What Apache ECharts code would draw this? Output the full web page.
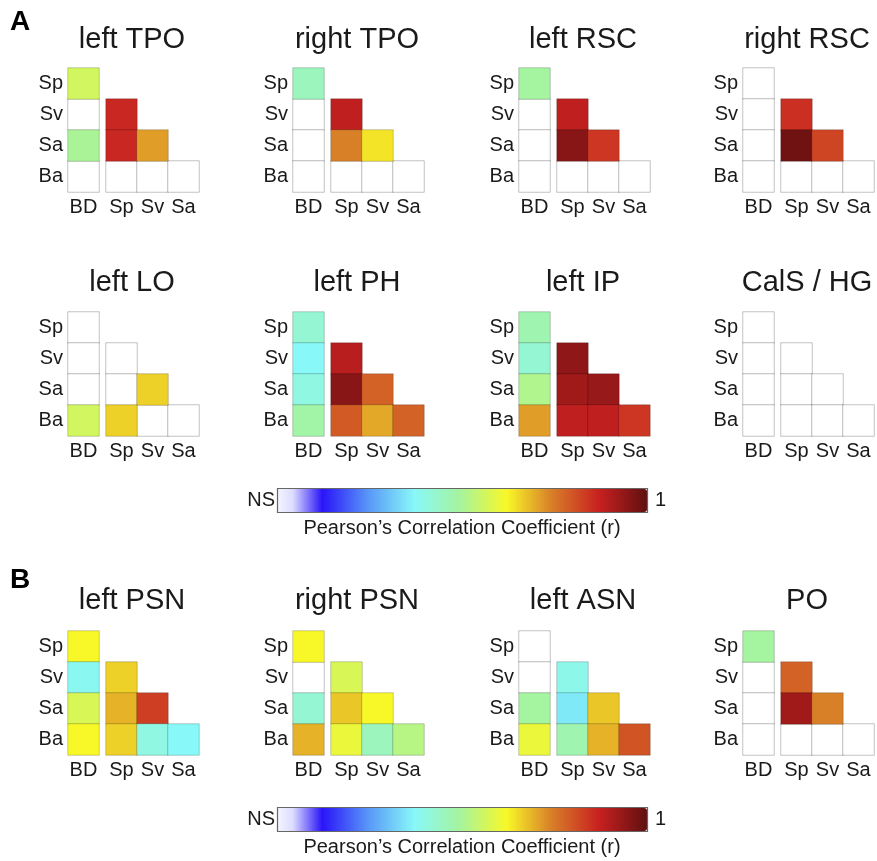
<!DOCTYPE html>
<html>
<head>
<meta charset="utf-8">
<script src="https://cdn.jsdelivr.net/npm/echarts@6/dist/echarts.min.js"></script>
<style>
html,body{margin:0;padding:0;background:#fff;}
#chart{width:877px;height:861px;}
</style>
</head>
<body>
<div id="chart"></div>
<script>
// ---- categories ----
const rowCats = ['Sp', 'Sv', 'Sa', 'Ba'];
const bdCats = ['BD'];
const triCats = ['Sp', 'Sv', 'Sa'];
// lower-triangle cell order: Sv-Sp, Sa-Sp, Sa-Sv, Ba-Sp, Ba-Sv, Ba-Sa  ([xIndex in triCats, yIndex in rowCats])
const triPairs = [[0, 1], [0, 2], [1, 2], [0, 3], [1, 3], [2, 3]];

const panelTitles = ['left TPO', 'right TPO', 'left RSC', 'right RSC',
  'left LO', 'left PH', 'left IP', 'CalS / HG',
  'left PSN', 'right PSN', 'left ASN', 'PO'];

// ---- values (position on the NS..1 colour scale; null = NS) ----
const leftTPO_BD = [0.56, null, 0.50, null];
const leftTPO_tri = [0.86, 0.86, 0.71, null, null, null];
const rightTPO_BD = [0.45, null, null, null];
const rightTPO_tri = [0.88, 0.74, 0.64, null, null, null];
const leftRSC_BD = [0.49, null, null, null];
const leftRSC_tri = [0.88, 0.95, 0.84, null, null, null];
const rightRSC_BD = [null, null, null, null];
const rightRSC_tri = [0.85, 0.98, 0.82, null, null, null];

const leftLO_BD = [null, null, null, 0.56];
const leftLO_tri = [null, null, 0.66, 0.66, null, null];
const leftPH_BD = [0.42, 0.37, 0.40, 0.48];
const leftPH_tri = [0.89, 0.95, 0.78, 0.79, 0.70, 0.78];
const leftIP_BD = [0.47, 0.42, 0.51, 0.71];
const leftIP_tri = [0.94, 0.92, 0.93, 0.88, 0.88, 0.84];
const calsHG_BD = [null, null, null, null];
const calsHG_tri = [null, null, null, null, null, null];

const leftPSN_BD = [0.62, 0.38, 0.57, 0.62];
const leftPSN_tri = [0.66, 0.69, 0.83, 0.66, 0.40, 0.37];
const rightPSN_BD = [0.62, null, 0.42, 0.69];
const rightPSN_tri = [0.57, 0.67, 0.62, 0.60, 0.45, 0.52];
const leftASN_BD = [null, null, 0.49, 0.60];
const leftASN_tri = [0.39, 0.35, 0.67, 0.47, 0.69, 0.80];
const PO_BD = [0.49, null, null, null];
const PO_tri = [0.78, 0.92, 0.74, null, null, null];

const bdValues = [leftTPO_BD, rightTPO_BD, leftRSC_BD, rightRSC_BD,
  leftLO_BD, leftPH_BD, leftIP_BD, calsHG_BD,
  leftPSN_BD, rightPSN_BD, leftASN_BD, PO_BD];
const triValues = [leftTPO_tri, rightTPO_tri, leftRSC_tri, rightRSC_tri,
  leftLO_tri, leftPH_tri, leftIP_tri, calsHG_tri,
  leftPSN_tri, rightPSN_tri, leftASN_tri, PO_tri];

// ---- colour scale (style) ----
const stops = [[0, '#f4f4ff'], [0.04, '#dcdcff'], [0.12, '#2a14f8'], [0.25, '#5a9cf8'],
  [0.37, '#88f8f8'], [0.49, '#a4f4a0'], [0.62, '#f8f828'], [0.74, '#d88028'],
  [0.87, '#c82020'], [1, '#601010']];
function hex2rgb(h) { return [parseInt(h.substr(1, 2), 16), parseInt(h.substr(3, 2), 16), parseInt(h.substr(5, 2), 16)]; }
function sample(t) {
  for (let i = 0; i < stops.length - 1; i++) {
    const a = stops[i], b = stops[i + 1];
    if (t >= a[0] && t <= b[0]) {
      const f = (t - a[0]) / (b[0] - a[0]);
      const ca = hex2rgb(a[1]), cb = hex2rgb(b[1]);
      return 'rgb(' + ca.map((v, k) => Math.round(v + (cb[k] - v) * f)).join(',') + ')';
    }
  }
  return stops[stops.length - 1][1];
}
const palette = [];
for (let i = 0; i <= 100; i++) palette.push(sample(i / 100));

// ---- layout ----
const FONT = '"Liberation Sans", Arial, Helvetica, sans-serif';
const TXT = '#1a1a1a';
const panelX = [68, 293, 519, 743];
const rowTop = [68, 312, 631];
const CELL = 31, GAP = 7;

const grids = [], xAxes = [], yAxes = [], series = [], graphics = [];
const colourSeriesA = [], colourSeriesB = [];
const cellStyle = { borderColor: 'rgba(0,0,0,0.2)', borderWidth: 1 };
const nsStyle = { color: '#ffffff', borderColor: 'rgba(0,0,0,0.24)', borderWidth: 1 };

for (let p = 0; p < 12; p++) {
  const r = Math.floor(p / 4), c = p % 4;
  const x0 = panelX[c], y0 = rowTop[r];
  const gBD = grids.length;
  grids.push({ left: x0, top: y0, width: CELL, height: CELL * 4 });
  grids.push({ left: x0 + CELL + GAP, top: y0, width: CELL * 3, height: CELL * 4 });
  const common = {
    axisLine: { show: false }, axisTick: { show: false }, splitLine: { show: false }
  };
  xAxes.push(Object.assign({ type: 'category', gridIndex: gBD, data: bdCats,
    axisLabel: { fontSize: 20, color: TXT, margin: 5, interval: 0, fontFamily: FONT } }, common));
  yAxes.push(Object.assign({ type: 'category', gridIndex: gBD, data: rowCats, inverse: true,
    axisLabel: { fontSize: 20, color: TXT, margin: 5, interval: 0, fontFamily: FONT } }, common));
  xAxes.push(Object.assign({ type: 'category', gridIndex: gBD + 1, data: triCats,
    axisLabel: { fontSize: 20, color: TXT, margin: 5, interval: 0, fontFamily: FONT } }, common));
  yAxes.push(Object.assign({ type: 'category', gridIndex: gBD + 1, data: rowCats, inverse: true,
    axisLabel: { show: false } }, common));

  const bdSig = [], bdNS = [], triSig = [], triNS = [];
  bdValues[p].forEach((v, i) => { if (v === null) bdNS.push([0, i, 0]); else bdSig.push([0, i, v]); });
  triValues[p].forEach((v, i) => {
    const cell = [triPairs[i][0], triPairs[i][1]];
    if (v === null) triNS.push(cell.concat([0])); else triSig.push(cell.concat([v]));
  });
  const tgt = r < 2 ? colourSeriesA : colourSeriesB;
  // NS (white) cells: not mapped by the colour scale
  series.push({ type: 'heatmap', xAxisIndex: gBD, yAxisIndex: gBD, data: bdNS, itemStyle: nsStyle, emphasis: { disabled: true } });
  series.push({ type: 'heatmap', xAxisIndex: gBD + 1, yAxisIndex: gBD + 1, data: triNS, itemStyle: nsStyle, emphasis: { disabled: true } });
  tgt.push(series.length);
  series.push({ type: 'heatmap', xAxisIndex: gBD, yAxisIndex: gBD, data: bdSig, itemStyle: cellStyle, emphasis: { disabled: true } });
  tgt.push(series.length);
  series.push({ type: 'heatmap', xAxisIndex: gBD + 1, yAxisIndex: gBD + 1, data: triSig, itemStyle: cellStyle, emphasis: { disabled: true } });

  const titleY = [40, 283, 601][r];
  graphics.push({ type: 'text', x: x0 + 64, y: titleY,
    style: { text: panelTitles[p], font: '29px ' + FONT, fill: TXT, textAlign: 'center', textVerticalAlign: 'middle' } });
}

const barLeft = 278, barLen = 369, barThick = 23;
const barTops = [489, 808];
function vm(idx, top) {
  return { type: 'continuous', min: 0, max: 1, seriesIndex: idx, orient: 'horizontal',
    left: barLeft, top: top, itemWidth: barThick, itemHeight: barLen, padding: 0,
    calculable: false, hoverLink: false, showLabel: false, text: null,
    inRange: { color: palette } };
}
barTops.forEach(t => {
  graphics.push({ type: 'rect', shape: { x: barLeft - 0.5, y: t - 0.5, width: barLen + 1, height: barThick + 1 },
    style: { fill: 'none', stroke: '#666', lineWidth: 1.2 }, z: 100 });
  graphics.push({ type: 'text', x: barLeft - 3, y: t + barThick / 2,
    style: { text: 'NS', font: '20px ' + FONT, fill: TXT, textAlign: 'right', textVerticalAlign: 'middle' } });
  graphics.push({ type: 'text', x: barLeft + barLen + 8, y: t + barThick / 2,
    style: { text: '1', font: '20px ' + FONT, fill: TXT, textAlign: 'left', textVerticalAlign: 'middle' } });
  graphics.push({ type: 'text', x: 462, y: t + barThick + 16,
    style: { text: 'Pearson\u2019s Correlation Coefficient (r)', font: '20px ' + FONT, fill: TXT, textAlign: 'center', textVerticalAlign: 'middle' } });
});
graphics.push({ type: 'text', x: 20, y: 22, style: { text: 'A', font: 'bold 28px ' + FONT, fill: '#000', textAlign: 'center', textVerticalAlign: 'middle' } });
graphics.push({ type: 'text', x: 20, y: 580, style: { text: 'B', font: 'bold 28px ' + FONT, fill: '#000', textAlign: 'center', textVerticalAlign: 'middle' } });

const chart = echarts.init(document.getElementById('chart'), null, { renderer: 'canvas' });
chart.setOption({
  backgroundColor: '#ffffff',
  animation: false,
  grid: grids,
  xAxis: xAxes,
  yAxis: yAxes,
  visualMap: [vm(colourSeriesA, barTops[0]), vm(colourSeriesB, barTops[1])],
  series: series,
  graphic: graphics
});
</script>
</body>
</html>
